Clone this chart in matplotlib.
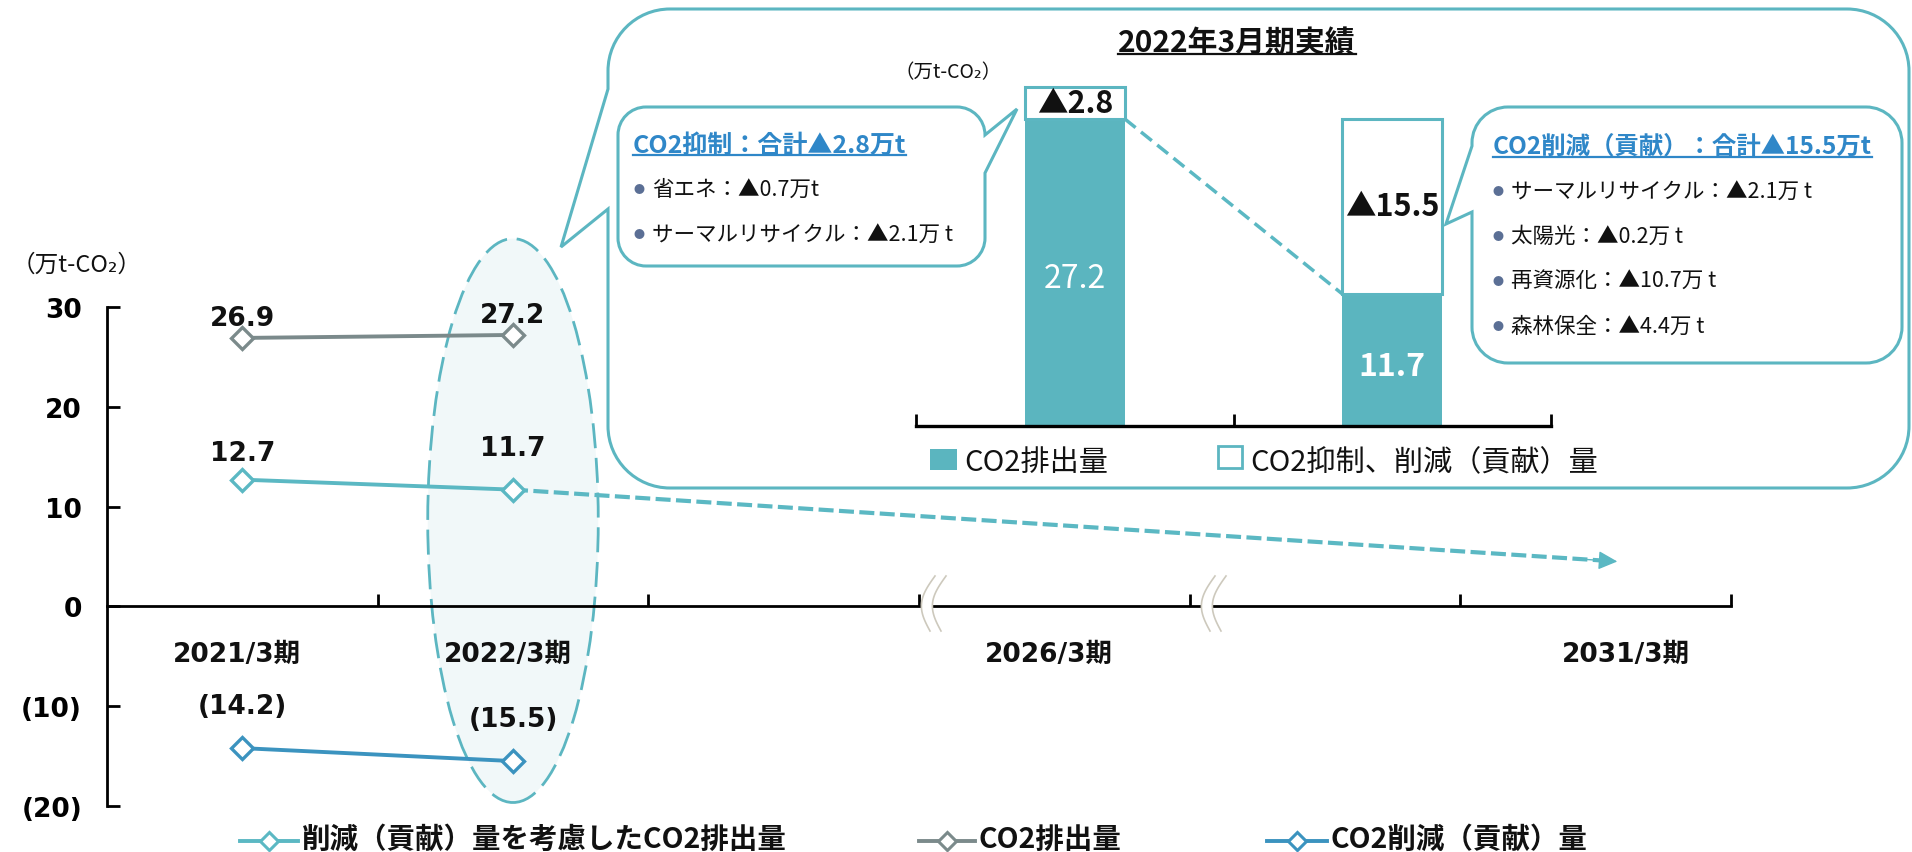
import matplotlib
matplotlib.use("Agg")
import matplotlib.pyplot as plt
import numpy as np
from matplotlib.path import Path
from matplotlib.patches import PathPatch, Ellipse, Rectangle
from matplotlib.lines import Line2D

plt.rcParams['font.family'] = ['Noto Sans CJK JP', 'DejaVu Sans']

# ---------------- data ----------------
periods = ['2021/3期', '2022/3期', '', '2026/3期', '', '2031/3期']
emission = [26.9, 27.2]            # CO2排出量
net_emission = [12.7, 11.7]        # 削減（貢献）量を考慮したCO2排出量
reduction = [-14.2, -15.5]         # CO2削減（貢献）量
net_target_2031 = 4.5              # projected end of dashed arrow
y_ticks = [30, 20, 10, 0, -10, -20]
y_tick_labels = ['30', '20', '10', '0', '(10)', '(20)']

inset_base = [27.2, 11.7]
inset_delta = [2.8, 15.5]
inset_base_labels = ['27.2', '11.7']
inset_delta_labels = ['▲2.8', '▲15.5']
inset_legend = ['CO2排出量', 'CO2抑制、削減（貢献）量']
inset_title = '2022年3月期実績'

left_title = 'CO2抑制：合計▲2.8万t'
left_items = ['省エネ：▲0.7万t', 'サーマルリサイクル：▲2.1万 t']
right_title = 'CO2削減（貢献）：合計▲15.5万t'
right_items = ['サーマルリサイクル：▲2.1万 t', '太陽光：▲0.2万 t',
               '再資源化：▲10.7万 t', '森林保全：▲4.4万 t']
legend_labels = ['削減（貢献）量を考慮したCO2排出量', 'CO2排出量', 'CO2削減（貢献）量']

# ---------------- style ----------------
TEAL = '#5bb8c3'
GRAY = '#7b8a8b'
BLUE = '#3b93bf'
BAR = '#5bb5bf'
EDGE = '#5cb6c1'
HEAD = '#2f87c8'
DOT = '#5b6f95'
INK = '#111111'
LATIN_B = dict(family=['DejaVu Sans', 'Noto Sans CJK JP'], weight='bold')

W, H = 1912, 853
fig = plt.figure(figsize=(W / 100, H / 100), dpi=100)


def fx(x):
    return x / W


def fy(y):
    return 1 - y / H


def ptext(x, y, s, **kw):
    return fig.text(fx(x), fy(y), s, **kw)


K = 0.5523


def callout_path(x0, y0, x1, y1, r, tail=None):
    verts, codes = [], []

    def M(p):
        verts.append(p); codes.append(Path.MOVETO)

    def L(p):
        verts.append(p); codes.append(Path.LINETO)

    def C(p1, p2, p3):
        verts.extend([p1, p2, p3]); codes.extend([Path.CURVE4] * 3)

    M((x0 + r, y0))
    L((x1 - r, y0))
    C((x1 - r + K * r, y0), (x1, y0 + r - K * r), (x1, y0 + r))
    if tail and tail[0] == 'right':
        _, a, b, tip = tail
        L((x1, a)); L(tip); L((x1, b))
    L((x1, y1 - r))
    C((x1, y1 - r + K * r), (x1 - r + K * r, y1), (x1 - r, y1))
    L((x0 + r, y1))
    C((x0 + r - K * r, y1), (x0, y1 - r + K * r), (x0, y1 - r))
    if tail and tail[0] == 'left':
        _, a, b, tip = tail
        L((x0, b)); L(tip); L((x0, a))
    L((x0, y0 + r))
    C((x0, y0 + r - K * r), (x0 + r - K * r, y0), (x0 + r, y0))
    verts.append((x0 + r, y0)); codes.append(Path.CLOSEPOLY)
    verts = [(fx(x), fy(y)) for x, y in verts]
    return Path(verts, codes)


# ---------------- main axes ----------------
ax = fig.add_axes([fx(107), fy(807), (1731 - 107) / W, (807 - 308) / H])
ax.set_xlim(-0.5, len(periods) - 0.5)
ax.set_ylim(-20, 30)
for s in ['top', 'right']:
    ax.spines[s].set_visible(False)
ax.spines['bottom'].set_position(('data', 0))
ax.spines['left'].set_linewidth(2)
ax.spines['bottom'].set_linewidth(2)
ax.set_yticks(y_ticks)
ax.set_yticklabels(y_tick_labels, fontfamily='DejaVu Sans', fontweight='bold', fontsize=19)
ax.tick_params(axis='y', direction='in', length=9, width=2, pad=18)
ax.set_xticks(np.arange(len(periods)) + 0.5)
ax.set_xticklabels([])
ax.tick_params(axis='x', direction='in', length=9, width=2)
ax.patch.set_alpha(0)

label_shift = [0, 0, 0, 0, 0, 0.13]
for i, lab in enumerate(periods):
    if lab:
        ax.text(i + label_shift[i] - 0.02, -4.8, lab, ha='center', va='center',
                fontsize=19, color=INK, **LATIN_B)

# highlight ellipse around 2022/3期
ell = Ellipse((1, 8.6), 0.63, 56.5, facecolor='#f1f8f9', edgecolor=EDGE,
              lw=2, linestyle=(0, (9, 3.5)), zorder=1, clip_on=False)
ax.add_patch(ell)

xs = np.arange(len(emission))
series = [(emission, GRAY, [14, 14]), (net_emission, TEAL, [19, 30]), (reduction, BLUE, [30, 30])]
for vals, col, offs in series:
    ax.plot(xs, vals, color=col, lw=2.8, marker='D', ms=11, mfc='white',
            mec=col, mew=2.4, zorder=4, clip_on=False)
    for x, v, off in zip(xs, vals, offs):
        txt = f'({abs(v):.1f})' if v < 0 else f'{v:.1f}'
        ax.annotate(txt, (x, v), xytext=(0, off), textcoords='offset points',
                    ha='center', va='center', fontsize=19, color=INK,
                    fontfamily='DejaVu Sans', fontweight='bold', zorder=5)

# dashed projection arrow
x_end = periods.index('2031/3期') + 0.08
x_start, y_start = xs[-1], net_emission[-1]
t = 0.985
xm = x_start + (x_end - x_start) * t
ym = y_start + (net_target_2031 - y_start) * t
ax.plot([x_start, xm], [y_start, ym], color=TEAL, lw=3, linestyle=(0, (3.6, 1.3)),
        zorder=3, solid_capstyle='butt')
ax.annotate('', xy=(x_end, net_target_2031),
            xytext=(xm - 0.05, ym + 0.05 * (y_start - net_target_2031) / (x_end - x_start)),
            arrowprops=dict(arrowstyle='-|>,head_length=0.45,head_width=0.22', color=TEAL,
                            lw=1, shrinkA=0, shrinkB=0, mutation_scale=26), zorder=3)

# axis break marks
for cx in [933, 1213]:
    tt = np.linspace(0, 1, 40)
    yy = 577 + 55 * tt
    xl = cx + 2 - 11 * np.sin(np.pi * tt) - 5 * tt
    xr = xl + 11
    poly = np.vstack([np.column_stack([xl, yy]), np.column_stack([xr[::-1], yy[::-1]])])
    fig.add_artist(plt.Polygon([(fx(a), fy(b)) for a, b in poly], closed=True,
                               facecolor='white', edgecolor='none', transform=fig.transFigure, zorder=2))
    for xc in (xl, xr):
        fig.add_artist(Line2D(fx(xc), fy(yy), color='#cdc9bd', lw=1.2,
                              transform=fig.transFigure, zorder=2.1))

# main y unit
ptext(12, 265, '（万t-CO₂）', fontsize=17, ha='left', va='center', color=INK)

# bottom legend
leg_handles = [(240, 298, 302), (919, 975, 979), (1267, 1327, 1330)]
leg_colors = [TEAL, GRAY, BLUE]
for (a, b, tx), col, lab in zip(leg_handles, leg_colors, legend_labels):
    fig.add_artist(Line2D([fx(a), fx(b)], [fy(842)] * 2, color=col, lw=2.8,
                          transform=fig.transFigure))
    fig.add_artist(Line2D([fx((a + b) / 2)], [fy(842)], color=col, marker='D', ms=9,
                          mfc='white', mec=col, mew=2.2, transform=fig.transFigure))
    ptext(tx, 840, lab, fontsize=20.5, fontweight='bold', ha='left', va='center', color=INK)

# ---------------- big callout ----------------
big = PathPatch(callout_path(608, 10, 1909, 489, 62, ('left', 90, 210, (561, 248))),
                facecolor='white', edgecolor=EDGE, lw=2.2, transform=fig.transFigure, zorder=1)
fig.add_artist(big)

# ---------------- inset bar chart ----------------
iax = fig.add_axes([fx(916), fy(427), (1551 - 916) / W, 30.5 * 11.29 / H])
iax.set_zorder(3)
iax.patch.set_alpha(0)
iax.set_xlim(-0.5, 1.5)
iax.set_ylim(0, 30.5)
ix = np.arange(len(inset_base))
bw = 0.315
iax.bar(ix, inset_base, width=bw, color=BAR, edgecolor=BAR, lw=0, zorder=2)
iax.bar(ix, inset_delta, bottom=inset_base, width=bw, facecolor='white',
        edgecolor=EDGE, lw=2.2, zorder=2)
for s in ['top', 'right', 'left']:
    iax.spines[s].set_visible(False)
iax.spines['bottom'].set_linewidth(2.4)
iax.set_yticks([])
iax.set_xticks([-0.5, 0.5, 1.5])
iax.set_xticklabels([])
iax.tick_params(axis='x', direction='in', length=9, width=2)
base_weights = ['normal', 'bold']
for i in ix:
    iax.text(i, inset_base[i] / 2 - 0.5, inset_base_labels[i], ha='center', va='center',
             color='white', fontsize=23, fontweight=base_weights[i], zorder=3)
    iax.text(i, inset_base[i] + inset_delta[i] / 2, inset_delta_labels[i], ha='center',
             va='center', color=INK, fontsize=22, fontweight='bold', zorder=3)
iax.plot([ix[0] + bw / 2, ix[1] - bw / 2], [inset_base[0], inset_base[1]], color=TEAL,
         lw=2.5, linestyle=(0, (4, 2)), zorder=1, clip_on=False)

ptext(948, 73, '（万t-CO₂）', fontsize=14, ha='center', va='center', color=INK, zorder=5)
title = ptext(1237, 43, inset_title, fontsize=21.5, fontweight='bold', ha='center',
              va='center', color=INK, zorder=5)

# inset legend
fig.add_artist(Rectangle((fx(930), fy(471)), 27 / W, 21 / H, facecolor=BAR, edgecolor='none',
                         transform=fig.transFigure, zorder=5))
ptext(964, 463, inset_legend[0], fontsize=21, ha='left', va='center', color=INK, zorder=5)
fig.add_artist(Rectangle((fx(1218), fy(469)), 24 / W, 22 / H, facecolor='white', edgecolor=EDGE,
                         lw=2, transform=fig.transFigure, zorder=5))
ptext(1250, 463, inset_legend[1], fontsize=21, ha='left', va='center', color=INK, zorder=5)

# ---------------- small callouts ----------------
c1 = PathPatch(callout_path(618, 108, 985, 267, 28, ('right', 136, 174, (1017, 110))),
               facecolor='white', edgecolor=EDGE, lw=2.2, transform=fig.transFigure, zorder=4)
fig.add_artist(c1)
c2 = PathPatch(callout_path(1472, 108, 1902, 364, 36, ('left', 147, 213, (1446, 225))),
               facecolor='white', edgecolor=EDGE, lw=2.2, transform=fig.transFigure, zorder=4)
fig.add_artist(c2)

h1 = ptext(633, 146, left_title, fontsize=18, fontweight='bold', ha='left', va='center',
           color=HEAD, zorder=6)
for k, item in enumerate(left_items):
    y = 190 + 45 * k
    ptext(639, y, '●', fontsize=8, ha='center', va='center', color=DOT, zorder=6)
    ptext(652, y, item, fontsize=15.5, ha='left', va='center', color=INK, zorder=6)

h2 = ptext(1493, 147, right_title, fontsize=17.6, fontweight='bold', ha='left', va='center',
           color=HEAD, zorder=6)
for k, item in enumerate(right_items):
    y = 192 + 45 * k
    ptext(1498, y, '●', fontsize=8, ha='center', va='center', color=DOT, zorder=6)
    ptext(1511, y, item, fontsize=15.5, ha='left', va='center', color=INK, zorder=6)

# underlines
renderer = fig.canvas.get_renderer()
for t_, col, dy in [(title, INK, 12), (h1, HEAD, 10), (h2, HEAD, 11)]:
    bb = t_.get_window_extent(renderer=renderer)
    yc = (bb.y0 + bb.y1) / 2 - dy
    fig.add_artist(Line2D([bb.x0 / W, bb.x1 / W], [yc / H, yc / H], color=col, lw=1.6,
                          transform=fig.transFigure, zorder=6))

fig.savefig('out.png', dpi=100)
